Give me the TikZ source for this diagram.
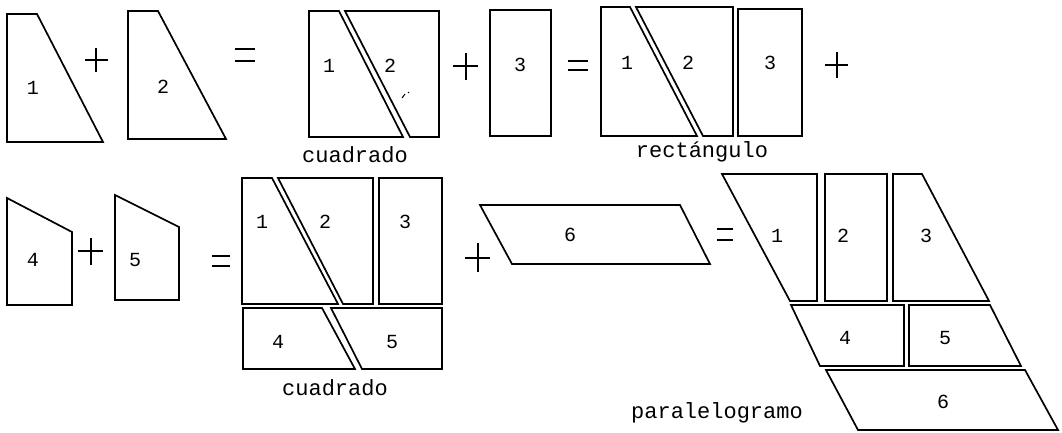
\documentclass[tikz,border=0pt]{standalone}
\usepackage{fontspec}
\setmainfont{Liberation Mono}
\begin{document}
\begin{tikzpicture}[x=1pt,y=-1pt,
  piece/.style={draw=black,line width=1.7pt,line join=miter,miter limit=3},
  sign/.style={draw=black,line width=1.5pt},
  num/.style={font=\fontsize{20}{20}\selectfont,inner sep=0pt},
  word/.style={font=\fontsize{22}{22}\selectfont,inner sep=0pt}]
\useasboundingbox (0,0) rectangle (1062,432);
% ---- row 1
\draw[piece] (7,14)--(37,14)--(103,142)--(7,142)--cycle;
\node[num] (a1) at (33,88) {1};
\draw[sign] (85,60)--(108,60) (96,48)--(96,72);
\draw[piece] (128,11)--(158,11)--(226,139)--(128,139)--cycle;
\node[num] (a2) at (163,87) {2};
\draw[sign] (235,49)--(255,49) (235,61)--(255,61);
% square A
\draw[piece] (309,11)--(339,11)--(403,137)--(309,137)--cycle;
\draw[piece] (345,11)--(439,11)--(439,137)--(410,137)--cycle;
\node[num] (b1) at (329,66) {1};
\node[num] (b2) at (390,66) {2};
\draw[line width=1pt] (402,98)--(405,94) (408,93)--(409,92);
\node[word] (wA) at (355,155) {cuadrado};
\draw[sign] (453,66)--(478,66) (466,53)--(466,80);
\draw[piece] (490,10) rectangle (551,136);
\node[num] (b3) at (520,65) {3};
\draw[sign] (568,61)--(588,61) (568,70)--(588,70);
% rectangle B
\draw[piece] (601,7)--(630,7)--(697,136)--(601,136)--cycle;
\draw[piece] (636,7)--(733,7)--(733,136)--(703,136)--cycle;
\draw[piece] (738,9) rectangle (802,136);
\node[num] (c1) at (627,63) {1};
\node[num] (c2) at (688,63) {2};
\node[num] (c3) at (770,63) {3};
\node[word] (wB) at (702,152) {rect\'angulo};
\draw[sign] (825,65)--(848,65) (837,52)--(837,78);
% ---- row 2
\draw[piece] (7,198)--(72,232)--(72,305)--(7,305)--cycle;
\node[num] (d4) at (33,260) {4};
\draw[sign] (78,251)--(103,251) (91,238)--(91,265);
\draw[piece] (115,195)--(179,227)--(179,300)--(115,300)--cycle;
\node[num] (d5) at (135,260) {5};
\draw[sign] (212,256)--(230,256) (212,266)--(230,266);
% square C
\draw[piece] (242,178)--(272,178)--(338,304)--(242,304)--cycle;
\draw[piece] (278,178)--(373,178)--(373,304)--(343,304)--cycle;
\draw[piece] (379,178) rectangle (442,304);
\draw[piece] (243,308)--(322,308)--(355,369)--(243,369)--cycle;
\draw[piece] (331,308)--(442,308)--(442,369)--(362,369)--cycle;
\node[num] (e1) at (262,222) {1};
\node[num] (e2) at (325,222) {2};
\node[num] (e3) at (405,222) {3};
\node[num] (e4) at (278,342) {4};
\node[num] (e5) at (392,342) {5};
\node[word] (wC) at (335,388) {cuadrado};
\draw[sign] (465,258)--(490,258) (478,243)--(478,272);
\draw[piece] (480,205)--(680,205)--(710,264)--(512,264)--cycle;
\node[num] (f6) at (570,235) {6};
\draw[sign] (717,229)--(733,229) (717,240)--(733,240);
% parallelogram D
\draw[piece] (722,174)--(817,174)--(817,301)--(790,301)--cycle;
\draw[piece] (825,174) rectangle (887,301);
\draw[piece] (893,174)--(922,174)--(989,301)--(893,301)--cycle;
\draw[piece] (791,305)--(904,305)--(904,366)--(820,366)--cycle;
\draw[piece] (909,305)--(990,305)--(1021,366)--(909,366)--cycle;
\draw[piece] (826,370)--(1025,370)--(1058,430)--(858,430)--cycle;
\node[num] (g1) at (777,236) {1};
\node[num] (g2) at (843,236) {2};
\node[num] (g3) at (926,236) {3};
\node[num] (g4) at (845,338) {4};
\node[num] (g5) at (945,338) {5};
\node[num] (g6) at (943,402) {6};
\node[word] (wD) at (717,413) {paralelogramo};
\end{tikzpicture}
\end{document}
